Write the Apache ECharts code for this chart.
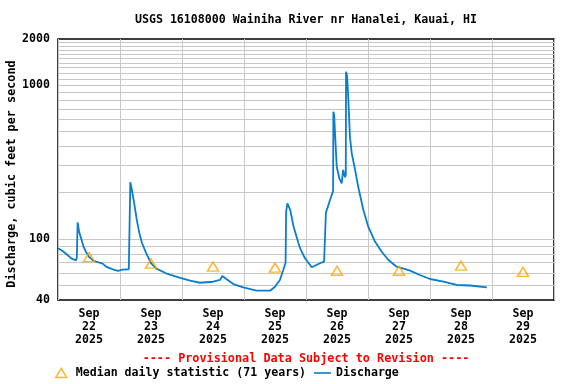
<!DOCTYPE html>
<html>
<head>
<meta charset="utf-8">
<script src="https://cdn.jsdelivr.net/npm/echarts@6/dist/echarts.min.js"></script>
<style>html,body{margin:0;padding:0;background:#fff}#c{width:576px;height:384px}</style>
</head>
<body>
<div id="c"></div>
<script>
// Hours since 2025-09-22 00:00 (local)
const hours = [0,1.5,3.1,4.6,5.5,6.2,7.0,7.3,7.5,7.6,7.9,8.2,8.7,9.3,10.0,10.8,12.1,13.3,14.7,16.0,17.3,18.6,20.0,21.2,23.2,25.0,27.4,27.9,28.0,28.3,28.6,29.5,30.5,31.5,32.5,34.1,36.0,37.9,41.8,47.0,51.1,55.0,60.1,62.7,63.6,65.3,67.9,71.7,76.9,82.1,84.0,85.9,87.2,88.1,88.3,88.8,89.3,89.9,91.2,93.1,93.7,95.6,98.2,98.8,101.4,103.0,103.6,103.7,105.3,106.2,106.5,106.6,106.9,107.3,107.9,108.9,109.8,110.4,111.1,111.4,111.5,111.9,112.4,113.0,113.7,115.0,116.2,118.2,120.1,122.7,125.3,127.9,131.1,136.3,140.1,144.0,149.2,154.3,159.5,166.0];
const discharge = [87,84,80,76,74,73,72.5,76,76,128,125,111,104,96,88,82.5,76,73,71,70,69,66,64.5,63.4,62,63,63.4,64,234,228,208,170,133,109,94,81,69.4,64.3,59.7,56,53.5,51.8,52.6,54,57.3,54.6,50.8,48.4,46,46,48.8,54,62.7,70,150,170.5,168,154,120,93.6,87,74.7,65.3,64.3,69.4,71,72,148,179,198,205,673,640,463,295,248,230,281,252,260,1226,1150,802,463,361,281,219,154,120,96,82.5,72.9,65.9,62.1,58.2,54.8,52.6,50.1,49.7,48.4];
// Median daily statistic, at noon of each day
const medianHours = [12,36,60,84,108,132,156,180];
const medianValues = [76,69,66,65,62,62,67,61];
const dayLabels = ['Sep\n22\n2025','Sep\n23\n2025','Sep\n24\n2025','Sep\n25\n2025','Sep\n26\n2025','Sep\n27\n2025','Sep\n28\n2025','Sep\n29\n2025'];
const gridValues = [50,60,70,80,90,100,200,300,400,500,600,700,800,900,1000,1100,1200,1300,1400,1500,1600,1700,1800,1900];

const FONT = 'DejaVu Sans Mono';
const ORANGE = '#ffa500';
const BLUE = '#0b7dcd';
const txt = {fontFamily: FONT, fontWeight: 'bold', fontSize: 11.6, color: '#000'};

const chart = echarts.init(document.getElementById('c'), null, {renderer: 'canvas'});
chart.setOption({
  animation: false,
  backgroundColor: '#fff',
  grid: {left: 58, right: 22, top: 39, bottom: 84, show: true, borderColor: '#000', borderWidth: 1.5, backgroundColor: 'transparent'},
  xAxis: [
    {type: 'value', min: 0, max: 192, interval: 24, axisLine: {show: false}, axisTick: {show: false}, axisLabel: {show: false},
     splitLine: {show: true, lineStyle: {color: '#c8c8c8', width: 1}}},
    {type: 'category', data: dayLabels, position: 'bottom', boundaryGap: true, axisLine: {show: false}, axisTick: {show: false},
     splitLine: {show: false}, axisLabel: Object.assign({margin: 7.5, lineHeight: 13, interval: 0}, txt)}
  ],
  yAxis: {type: 'log', logBase: 10, min: 40, max: 2000, axisLine: {show: false}, axisTick: {show: false},
    splitLine: {show: false}, axisLabel: Object.assign({margin: 8, formatter: v => String(Math.round(v))}, txt)},
  graphic: [
    {type: 'text', x: 306, y: 20, style: {text: 'USGS 16108000 Wainiha River nr Hanalei, Kauai, HI', textAlign: 'center', textVerticalAlign: 'middle', font: 'bold 11.6px "DejaVu Sans Mono"', fill: '#000'}},
    {type: 'text', x: 12, y: 174, rotation: Math.PI / 2, style: {text: 'Discharge, cubic feet per second', textAlign: 'center', textVerticalAlign: 'middle', font: 'bold 11.8px "DejaVu Sans Mono"', fill: '#000'}},
    {type: 'text', x: 306, y: 359, style: {text: '---- Provisional Data Subject to Revision ----', textAlign: 'center', textVerticalAlign: 'middle', font: 'bold 11.8px "DejaVu Sans Mono"', fill: '#ff0000'}}
  ],
  legend: [
    {left: 55, top: 367, padding: 0, itemWidth: 11, itemHeight: 9, selectedMode: false,
     data: [{name: 'Median daily statistic (71 years)', icon: 'triangle', itemStyle: {color: 'rgba(0,0,0,0)', borderColor: ORANGE, borderWidth: 1.5}}],
     textStyle: Object.assign({padding: [0, 0, 0, 4]}, txt)},
    {left: 314, top: 367, padding: 0, itemWidth: 17, itemHeight: 9, selectedMode: false,
     data: [{name: 'Discharge', icon: 'path://M0,4.2 L17,4.2 L17,5.8 L0,5.8 Z', itemStyle: {color: BLUE}}], textStyle: txt}
  ],
  series: [
    {name: 'Discharge', type: 'line', xAxisIndex: 0, z: 3, symbol: 'none', showSymbol: false,
     lineStyle: {color: BLUE, width: 1.8}, itemStyle: {color: BLUE},
     data: hours.map((h, i) => [h, discharge[i]]),
     markLine: {silent: true, z: 1, symbol: 'none', label: {show: false}, animation: false,
       lineStyle: {color: '#c8c8c8', width: 1, type: 'solid'},
       emphasis: {disabled: true},
       data: gridValues.map(v => ({yAxis: v}))}},
    {name: 'Median daily statistic (71 years)', type: 'scatter', xAxisIndex: 0, z: 4, symbol: 'triangle', symbolSize: [11, 9],
     itemStyle: {color: 'rgba(0,0,0,0)', borderColor: ORANGE, borderWidth: 1.5},
     data: medianHours.map((h, i) => [h, medianValues[i]])}
  ]
});
</script>
</body>
</html>
